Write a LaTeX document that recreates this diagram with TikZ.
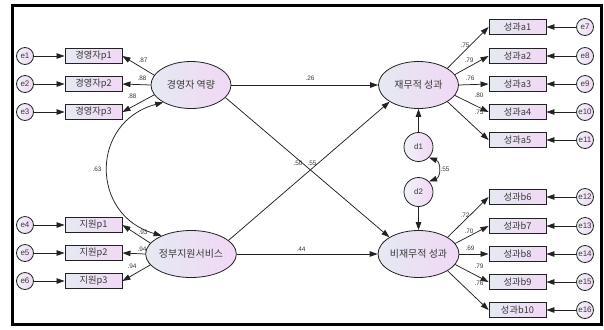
\documentclass[tikz,border=0pt]{standalone}
\usepackage{fontspec}
\setmainfont{Liberation Sans}
\newfontfamily\krfont{Noto Sans CJK KR}
\usetikzlibrary{arrows.meta,shapes.geometric}

\definecolor{fillL}{HTML}{E5E9F2}
\definecolor{fillR}{HTML}{F1D8F5}
\definecolor{ink}{HTML}{3A3A3A}
\definecolor{edge}{HTML}{222222}

\begin{document}
\begin{tikzpicture}[x=1bp,y=-1bp,
  >={Triangle[length=8bp,width=5.5bp]},
  obs/.style={rectangle, draw=edge, line width=0.9bp, minimum width=57bp,
    minimum height=15bp, inner sep=0pt, left color=fillL, right color=fillR,
    text=ink, font=\krfont\fontsize{9.3}{10}\selectfont},
  lat/.style={ellipse, draw=edge, line width=0.8bp, minimum width=80bp,
    minimum height=47bp, inner sep=0pt, left color=fillL, right color=fillR,
    text=ink, font=\krfont\fontsize{10}{12}\selectfont},
  err/.style={circle, draw=edge, line width=0.8bp, minimum size=17bp,
    inner sep=0pt, left color=fillL!60!white, right color=fillR,
    text=ink, font=\fontsize{8}{9}\selectfont},
  dist/.style={err, minimum size=29bp},
  link/.style={->, line width=0.75bp, draw=edge},
  cov/.style={<->, line width=0.75bp, draw=edge},
  coef/.style={text=ink, inner sep=0pt, font=\fontsize{6.5}{7}\selectfont}
]
\useasboundingbox (0,0) rectangle (604,329);
\fill[white] (0,0) rectangle (604,329);

% outer frame
\draw[line width=3bp] (12,5) rectangle (601,324);

% latent variables
\node[lat] (mgr)  at (191,85)  {경영자 역량};
\node[lat] (gov)  at (191,254) {정부지원서비스};
\node[lat] (fin)  at (418.5,85)  {재무적 성과};
\node[lat] (nfin) at (418.5,254) {비재무적 성과};

% disturbances
\node[dist] (d1) at (418.5,147) {d1};
\node[dist] (d2) at (418.5,192) {d2};

% left indicators with their errors
\foreach \i/\y in {1/56,2/84,3/112}{
  \node[obs] (mp\i) at (93.5,\y) {경영자p\i};
  \node[err] (e\i) at (25,\y) {e\i};
  \draw[link] (e\i) -- (mp\i);
}
\foreach \i/\y/\e in {1/225/4,2/253/5,3/281/6}{
  \node[obs] (gp\i) at (93.5,\y) {지원p\i};
  \node[err] (e\e) at (25,\y) {e\e};
  \draw[link] (e\e) -- (gp\i);
}

% right indicators with their errors
\foreach \i/\y/\e in {1/27/7,2/56/8,3/84/9,4/112/10,5/140/11}{
  \node[obs] (a\i) at (517.5,\y) {성과a\i};
  \node[err] (e\e) at (585,\y) {e\e};
  \draw[link] (e\e) -- (a\i);
}
\foreach \i/\y/\e in {6/197/12,7/226/13,8/254/14,9/282/15,10/310/16}{
  \node[obs] (b\i) at (517.5,\y) {성과b\i};
  \node[err] (e\e) at (585,\y) {e\e};
  \draw[link] (e\e) -- (b\i);
}

% loadings
\draw[link] (mgr.165) -- (mp1.east);
\draw[link] (mgr.180) -- (mp2.east);
\draw[link] (mgr.195) -- (mp3.east);
\draw[link] (gov.165) -- (gp1.east);
\draw[link] (gov.180) -- (gp2.east);
\draw[link] (gov.195) -- (gp3.east);
\draw[link] (fin.30)  -- (a1.west);
\draw[link] (fin.16)  -- (a2.west);
\draw[link] (fin.0)   -- (a3.west);
\draw[link] (fin.-16) -- (a4.west);
\draw[link] (fin.-30) -- (a5.west);
\draw[link] (nfin.30)  -- (b6.west);
\draw[link] (nfin.16)  -- (b7.west);
\draw[link] (nfin.0)   -- (b8.west);
\draw[link] (nfin.-16) -- (b9.west);
\draw[link] (nfin.-30) -- (b10.west);

% structural paths
\draw[link] (mgr) -- (fin);
\draw[link] (gov) -- (nfin);
\draw[link] (mgr.-20) -- (nfin.150);
\draw[link] (gov.20) -- (fin.-150);
\draw[link] (d1) -- (fin);
\draw[link] (d2) -- (nfin);

% covariances
\draw[cov] (mgr.212) .. controls (90,122) and (90,215) .. (gov.148);
\draw[cov] (d1.-45) .. controls (441,162) and (441,177) .. (d2.45);

% coefficients
\node[coef] at (143,60)  {.87};
\node[coef] at (142,78)  {.88};
\node[coef] at (132,96)  {.88};
\node[coef] at (143,232) {.93};
\node[coef] at (142,249) {.94};
\node[coef] at (132,266) {.94};
\node[coef] at (97,169)  {.63};
\node[coef] at (310,78)  {.26};
\node[coef] at (301,249) {.44};
\node[coef] at (298,163) {.50};
\node[coef] at (312,163) {.55};
\node[coef] at (445,169) {.55};
\node[coef] at (465,45)  {.75};
\node[coef] at (469,60)  {.79};
\node[coef] at (470,78)  {.76};
\node[coef] at (479,95)  {.80};
\node[coef] at (479,112) {.75};
\node[coef] at (465,215) {.72};
\node[coef] at (469,231) {.70};
\node[coef] at (470,248) {.69};
\node[coef] at (479,266) {.79};
\node[coef] at (479,283) {.76};
\end{tikzpicture}
\end{document}
